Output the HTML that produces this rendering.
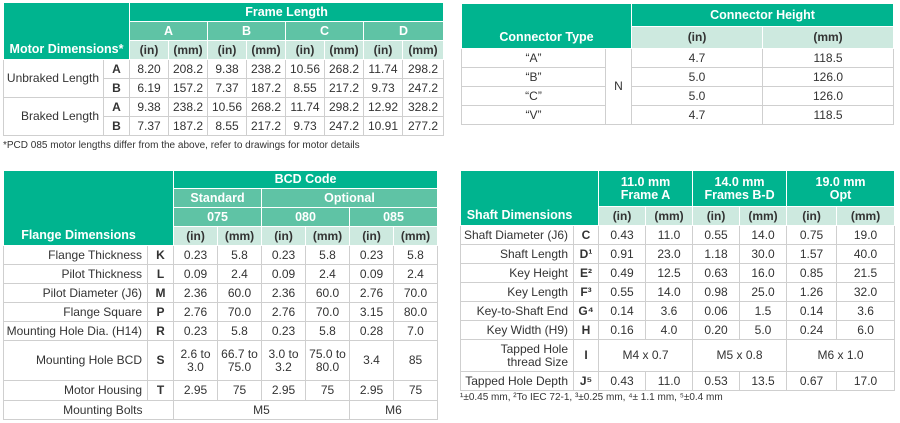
<!DOCTYPE html>
<html><head><meta charset="utf-8"><style>
body{margin:0;width:900px;height:423px;background:#fff;position:relative;overflow:hidden;font-family:"Liberation Sans",sans-serif;color:#333}
table{position:absolute;border-collapse:collapse;table-layout:fixed;font-size:12px}
td{border:1px solid #cfcfcf;text-align:center;padding:0;overflow:hidden;white-space:nowrap;line-height:13px}
.h{background:#00b48f;color:#fff;font-weight:bold;border-color:#fff;font-size:12.5px}
.m{background:#5fc3a5;color:#fff;font-weight:bold;border-color:#fff;font-size:12.5px}
.u{background:#cde9df;color:#333;font-weight:bold;border-color:#fff}
.l{text-align:right;padding-right:5px}
.b{font-weight:bold}
.fn{position:absolute;font-size:10px;color:#333}
</style></head><body>

<table style="left:3px;top:2px;width:440px">
<colgroup><col style="width:100px"><col style="width:26px"><col style="width:39px"><col style="width:39px"><col style="width:39px"><col style="width:39px"><col style="width:39px"><col style="width:39px"><col style="width:39px"><col style="width:41px"></colgroup>
<tr style="height:19px"><td class="h" colspan="2" rowspan="3" style="vertical-align:bottom;padding-bottom:3px">Motor Dimensions*</td><td class="h" colspan="8">Frame Length</td></tr>
<tr style="height:19px"><td class="m" colspan="2">A</td><td class="m" colspan="2">B</td><td class="m" colspan="2">C</td><td class="m" colspan="2">D</td></tr>
<tr style="height:19px"><td class="u">(in)</td><td class="u">(mm)</td><td class="u">(in)</td><td class="u">(mm)</td><td class="u">(in)</td><td class="u">(mm)</td><td class="u">(in)</td><td class="u">(mm)</td></tr>
<tr style="height:19px"><td rowspan="2" class="l" style="padding-right:4px">Unbraked Length</td><td class="b">A</td><td>8.20</td><td>208.2</td><td>9.38</td><td>238.2</td><td>10.56</td><td>268.2</td><td>11.74</td><td>298.2</td></tr>
<tr style="height:19px"><td class="b">B</td><td>6.19</td><td>157.2</td><td>7.37</td><td>187.2</td><td>8.55</td><td>217.2</td><td>9.73</td><td>247.2</td></tr>
<tr style="height:19px"><td rowspan="2" class="l" style="padding-right:4px">Braked Length</td><td class="b">A</td><td>9.38</td><td>238.2</td><td>10.56</td><td>268.2</td><td>11.74</td><td>298.2</td><td>12.92</td><td>328.2</td></tr>
<tr style="height:19px"><td class="b">B</td><td>7.37</td><td>187.2</td><td>8.55</td><td>217.2</td><td>9.73</td><td>247.2</td><td>10.91</td><td>277.2</td></tr>
</table>
<div class="fn" style="left:3px;top:140px">*PCD 085 motor lengths differ from the above, refer to drawings for motor details</div>

<table style="left:461px;top:3px;width:432px">
<colgroup><col style="width:144px"><col style="width:26px"><col style="width:131px"><col style="width:131px"></colgroup>
<tr style="height:23px"><td class="h" colspan="2" rowspan="2" style="vertical-align:bottom;padding-bottom:4px">Connector Type</td><td class="h" colspan="2">Connector Height</td></tr>
<tr style="height:22px"><td class="u">(in)</td><td class="u">(mm)</td></tr>
<tr style="height:19px"><td>“A”</td><td rowspan="4">N</td><td>4.7</td><td>118.5</td></tr>
<tr style="height:19px"><td>“B”</td><td>5.0</td><td>126.0</td></tr>
<tr style="height:19px"><td>“C”</td><td>5.0</td><td>126.0</td></tr>
<tr style="height:19px"><td>“V”</td><td>4.7</td><td>118.5</td></tr>
</table>

<table style="left:3px;top:170px;width:434px">
<colgroup><col style="width:144px"><col style="width:26px"><col style="width:44px"><col style="width:44px"><col style="width:44px"><col style="width:44px"><col style="width:44px"><col style="width:44px"></colgroup>
<tr style="height:18px"><td class="h" colspan="2" rowspan="4" style="vertical-align:bottom;padding-bottom:3px;padding-right:20px">Flange Dimensions</td><td class="h" colspan="6">BCD Code</td></tr>
<tr style="height:19px"><td class="m" colspan="2">Standard</td><td class="m" colspan="4">Optional</td></tr>
<tr style="height:19px"><td class="m" colspan="2">075</td><td class="m" colspan="2">080</td><td class="m" colspan="2">085</td></tr>
<tr style="height:19px"><td class="u">(in)</td><td class="u">(mm)</td><td class="u">(in)</td><td class="u">(mm)</td><td class="u">(in)</td><td class="u">(mm)</td></tr>
<tr style="height:19px"><td class="l">Flange Thickness</td><td class="b">K</td><td>0.23</td><td>5.8</td><td>0.23</td><td>5.8</td><td>0.23</td><td>5.8</td></tr>
<tr style="height:19px"><td class="l">Pilot Thickness</td><td class="b">L</td><td>0.09</td><td>2.4</td><td>0.09</td><td>2.4</td><td>0.09</td><td>2.4</td></tr>
<tr style="height:19px"><td class="l">Pilot Diameter (J6)</td><td class="b">M</td><td>2.36</td><td>60.0</td><td>2.36</td><td>60.0</td><td>2.76</td><td>70.0</td></tr>
<tr style="height:19px"><td class="l">Flange Square</td><td class="b">P</td><td>2.76</td><td>70.0</td><td>2.76</td><td>70.0</td><td>3.15</td><td>80.0</td></tr>
<tr style="height:19px"><td class="l">Mounting Hole Dia. (H14)</td><td class="b">R</td><td>0.23</td><td>5.8</td><td>0.23</td><td>5.8</td><td>0.28</td><td>7.0</td></tr>
<tr style="height:40px"><td class="l">Mounting Hole BCD</td><td class="b">S</td><td style="white-space:normal">2.6 to<br>3.0</td><td style="white-space:normal">66.7 to<br>75.0</td><td style="white-space:normal">3.0 to<br>3.2</td><td style="white-space:normal">75.0 to<br>80.0</td><td>3.4</td><td>85</td></tr>
<tr style="height:20px"><td class="l">Motor Housing</td><td class="b">T</td><td>2.95</td><td>75</td><td>2.95</td><td>75</td><td>2.95</td><td>75</td></tr>
<tr style="height:19px"><td class="l" style="border-right:0">Mounting Bolts</td><td style="border-left:0"></td><td colspan="4">M5</td><td colspan="2">M6</td></tr>
</table>

<table style="left:460px;top:170px;width:434px">
<colgroup><col style="width:113px"><col style="width:25px"><col style="width:47px"><col style="width:47px"><col style="width:47px"><col style="width:47px"><col style="width:50px"><col style="width:58px"></colgroup>
<tr style="height:36px"><td class="h" colspan="2" rowspan="2" style="vertical-align:bottom;padding-bottom:3px;padding-right:20px">Shaft Dimensions</td><td class="h" colspan="2">11.0 mm<br>Frame A</td><td class="h" colspan="2">14.0 mm<br>Frames B-D</td><td class="h" colspan="2">19.0 mm<br>Opt</td></tr>
<tr style="height:19px"><td class="u">(in)</td><td class="u">(mm)</td><td class="u">(in)</td><td class="u">(mm)</td><td class="u">(in)</td><td class="u">(mm)</td></tr>
<tr style="height:19px"><td class="l">Shaft Diameter (J6)</td><td class="b">C</td><td>0.43</td><td>11.0</td><td>0.55</td><td>14.0</td><td>0.75</td><td>19.0</td></tr>
<tr style="height:19px"><td class="l">Shaft Length</td><td class="b">D¹</td><td>0.91</td><td>23.0</td><td>1.18</td><td>30.0</td><td>1.57</td><td>40.0</td></tr>
<tr style="height:19px"><td class="l">Key Height</td><td class="b">E²</td><td>0.49</td><td>12.5</td><td>0.63</td><td>16.0</td><td>0.85</td><td>21.5</td></tr>
<tr style="height:19px"><td class="l">Key Length</td><td class="b">F³</td><td>0.55</td><td>14.0</td><td>0.98</td><td>25.0</td><td>1.26</td><td>32.0</td></tr>
<tr style="height:19px"><td class="l">Key-to-Shaft End</td><td class="b">G⁴</td><td>0.14</td><td>3.6</td><td>0.06</td><td>1.5</td><td>0.14</td><td>3.6</td></tr>
<tr style="height:19px"><td class="l">Key Width (H9)</td><td class="b">H</td><td>0.16</td><td>4.0</td><td>0.20</td><td>5.0</td><td>0.24</td><td>6.0</td></tr>
<tr style="height:32px"><td class="l">Tapped Hole<br>thread Size</td><td class="b">I</td><td colspan="2">M4 x 0.7</td><td colspan="2">M5 x 0.8</td><td colspan="2">M6 x 1.0</td></tr>
<tr style="height:19px"><td class="l">Tapped Hole Depth</td><td class="b">J⁵</td><td>0.43</td><td>11.0</td><td>0.53</td><td>13.5</td><td>0.67</td><td>17.0</td></tr>
</table>
<div class="fn" style="left:460px;top:392px">¹±0.45 mm, ²To IEC 72-1, ³±0.25 mm, ⁴± 1.1 mm, ⁵±0.4 mm</div>
</body></html>
